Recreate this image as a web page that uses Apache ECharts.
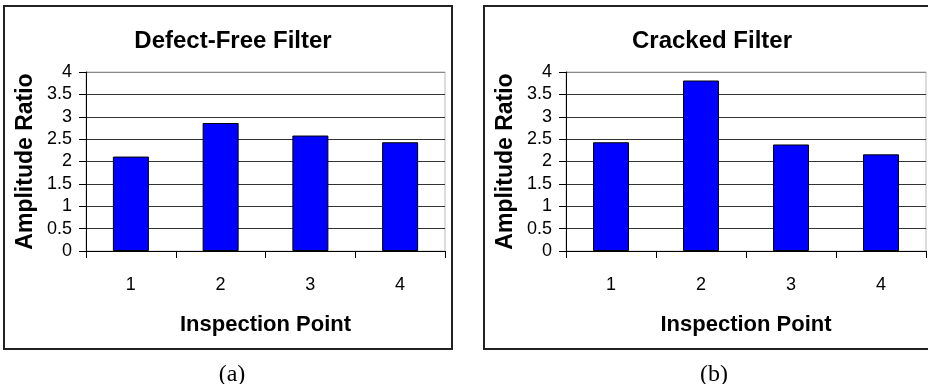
<!DOCTYPE html>
<html>
<head>
<meta charset="utf-8">
<script src="https://cdn.jsdelivr.net/npm/echarts@6/dist/echarts.min.js"></script>
<style>
  html, body { margin: 0; padding: 0; background: #fff; }
  #chart { width: 928px; height: 384px; }
</style>
</head>
<body>
<div id="chart"></div>
<script>
// data
const points = ['1', '2', '3', '4']
const defectFree = [2.11, 2.86, 2.58, 2.43]
const cracked = [2.43, 3.81, 2.38, 2.16]
const titles = ['Defect-Free Filter', 'Cracked Filter']
const captions = ['(a)', '(b)']

const FONT = '"Liberation Sans", Arial, sans-serif'
const SERIF = '"Liberation Serif", "Times New Roman", serif'

const chart = echarts.init(document.getElementById('chart'))

// the top gridline (at 4) is drawn lighter, like the plot-area border
const gridColors = ['#333', '#333', '#333', '#333', '#333', '#333', '#333', '#333', '#888']

function xAxisFor(i) {
  return {
    type: 'category',
    gridIndex: i,
    data: points,
    boundaryGap: true,
    axisLine: { show: true, lineStyle: { color: '#000', width: 1 } },
    axisTick: { show: true, length: 7, lineStyle: { color: '#000' } },
    axisLabel: { color: '#000', fontSize: 18, fontFamily: FONT, margin: 25 },
    name: 'Inspection Point',
    nameLocation: 'middle',
    nameGap: 63,
    nameTextStyle: { color: '#000', fontSize: 22, fontWeight: 'bold', fontFamily: FONT }
  }
}

function yAxisFor(i) {
  return {
    type: 'value',
    gridIndex: i,
    min: 0,
    max: 4,
    interval: 0.5,
    axisLine: { show: true, lineStyle: { color: '#000', width: 1 } },
    axisTick: { show: true, length: 7, lineStyle: { color: '#000' } },
    axisLabel: { color: '#000', fontSize: 18, fontFamily: FONT, margin: 14 },
    splitLine: { show: true, lineStyle: { color: gridColors, width: 1 } },
    name: 'Amplitude Ratio',
    nameLocation: 'middle',
    nameGap: 49,
    nameTextStyle: { color: '#000', fontSize: 23, fontWeight: 'bold', fontFamily: FONT }
  }
}

function barSeries(i, values) {
  return {
    type: 'bar',
    xAxisIndex: i,
    yAxisIndex: i,
    data: values,
    barWidth: 36,
    itemStyle: { color: '#0000ff', borderColor: '#000', borderWidth: 1 },
    animation: false
  }
}

const titleStyle = { color: '#000', fontSize: 24, fontWeight: 'bold', fontFamily: FONT }
const captionStyle = { color: '#000', fontSize: 24, fontWeight: 'normal', fontFamily: SERIF }

const option = {
  animation: false,
  backgroundColor: '#fff',
  title: [
    { text: titles[0], left: 228, top: 24, textAlign: 'center', textStyle: titleStyle },
    { text: titles[1], left: 707, top: 24, textAlign: 'center', textStyle: titleStyle },
    { text: captions[0], left: 227, top: 358, textAlign: 'center', textStyle: captionStyle },
    { text: captions[1], left: 709, top: 358, textAlign: 'center', textStyle: captionStyle }
  ],
  grid: [
    { left: 86, right: 483, top: 72, bottom: 133, show: true, borderColor: '#bbb', borderWidth: 1 },
    { left: 566, right: 2, top: 72, bottom: 133, show: true, borderColor: '#bbb', borderWidth: 1 }
  ],
  xAxis: [xAxisFor(0), xAxisFor(1)],
  yAxis: [yAxisFor(0), yAxisFor(1)],
  series: [barSeries(0, defectFree), barSeries(1, cracked)],
  graphic: [
    {
      type: 'rect', silent: true,
      shape: { x: 4, y: 6, width: 448, height: 343 },
      style: { fill: null, stroke: '#222', lineWidth: 2 }
    },
    {
      type: 'rect', silent: true,
      shape: { x: 484, y: 6, width: 460, height: 343 },
      style: { fill: null, stroke: '#222', lineWidth: 2 }
    }
  ]
}

chart.setOption(option)
window.addEventListener('resize', function() {
  chart.resize()
})
</script>
</body>
</html>
